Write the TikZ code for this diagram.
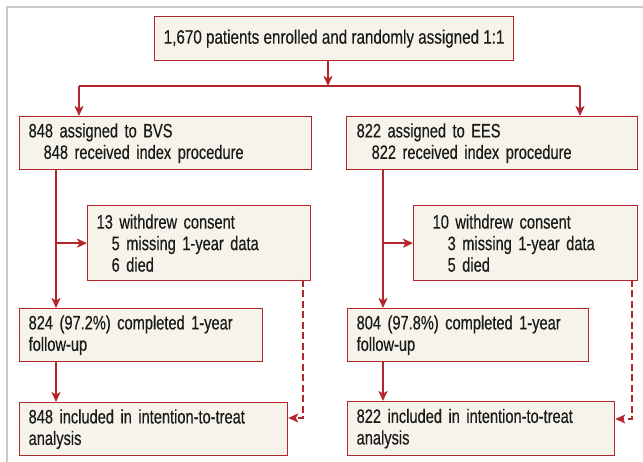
\documentclass[tikz,border=0pt]{standalone}
\usepackage{fontspec}
\setmainfont{Liberation Sans}[FakeStretch=0.75,FakeBold=0.4]
\newfontfamily\topfont{Liberation Sans}[FakeStretch=0.78,FakeBold=0.4]
\usetikzlibrary{arrows.meta}
\definecolor{boxred}{HTML}{B3262C}
\definecolor{cream}{HTML}{F6F4EA}
\definecolor{framegray}{HTML}{C9C9C9}
\definecolor{txt}{HTML}{1A1A1A}
\tikzset{
  box/.style={draw=boxred, line width=1.3pt, fill=cream, rectangle, anchor=north west,
    font=\fontsize{19.5}{21.5}\selectfont, text=txt, align=left, inner ysep=0pt},
  link/.style={draw=boxred, line width=2pt},
  arr/.style={link, -{Stealth[length=10pt,width=9pt,inset=2.5pt]}},
  dasharr/.style={arr, line width=1.6pt, dash pattern=on 7pt off 3.5pt},
}
\newcommand{\ind}{\hspace*{15pt}}
\begin{document}
\begin{tikzpicture}[x=1pt,y=-1pt]
\useasboundingbox (0,0) rectangle (643,462);
% frame
\draw[framegray, line width=2pt] (7,470) -- (7,7) -- (650,7);
% boxes
\node[box, minimum width=359pt, minimum height=44pt, align=center, inner xsep=4pt,
  font=\topfont\fontsize{19.5}{21.5}\selectfont] (top) at (154,16)
  {1,670 patients enrolled and randomly assigned 1:1};
\node[box, minimum width=292pt, minimum height=53pt, inner xsep=9pt, text width=274pt] (bvs) at (19,116)
  {848 assigned to BVS\\\ind 848 received index procedure};
\node[box, minimum width=291pt, minimum height=53pt, inner xsep=10pt, text width=271pt] (ees) at (346,116)
  {822 assigned to EES\\\ind 822 received index procedure};
\node[box, minimum width=223pt, minimum height=75pt, inner xsep=9pt, text width=205pt] (wbvs) at (87,205)
  {13 withdrew consent\\\ind 5 missing 1-year data\\\ind 6 died};
\node[box, minimum width=224pt, minimum height=75pt, inner xsep=19pt, text width=186pt] (wees) at (413,205)
  {10 withdrew consent\\\ind 3 missing 1-year data\\\ind 5 died};
\node[box, minimum width=243pt, minimum height=53pt, inner xsep=9pt, text width=225pt] (cbvs) at (19,308)
  {824 (97.2\%) completed 1-year\\follow-up};
\node[box, minimum width=241pt, minimum height=53pt, inner xsep=9pt, text width=223pt] (cees) at (347,308)
  {804 (97.8\%) completed 1-year\\follow-up};
\node[box, minimum width=268pt, minimum height=53pt, inner xsep=9pt, text width=250pt] (ibvs) at (19,402)
  {848 included in intention-to-treat\\analysis};
\node[box, minimum width=267pt, minimum height=54pt, inner xsep=9pt, text width=249pt] (iees) at (347,401)
  {822 included in intention-to-treat\\analysis};
% split
\coordinate (split) at (328,86);
\coordinate (L) at (79,86);
\coordinate (R) at (580,86);
\draw[arr] (top.south -| split) -- (split);
\draw[link] (L) -- (R);
\draw[arr] (L) -- (L |- bvs.north);
\draw[arr] (R) -- (R |- ees.north);
% left arm
\coordinate (lv) at (56,169);
\draw[arr] (lv) -- (lv |- cbvs.north);
\draw[arr] (lv |- wbvs.west) -- (wbvs.west);
\draw[arr] (lv |- cbvs.south) -- (lv |- ibvs.north);
\coordinate (ld) at (303,280);
\coordinate (ldb) at (303,418);
\draw[dasharr] (ld) -- (ldb) -- (ldb -| ibvs.east);
% right arm
\coordinate (rv) at (383,169);
\draw[arr] (rv) -- (rv |- cees.north);
\draw[arr] (rv |- wees.west) -- (wees.west);
\draw[arr] (rv |- cees.south) -- (rv |- iees.north);
\coordinate (rd) at (632,280);
\coordinate (rdb) at (632,419);
\draw[dasharr] (rd) -- (rdb) -- (rdb -| iees.east);
\end{tikzpicture}
\end{document}
